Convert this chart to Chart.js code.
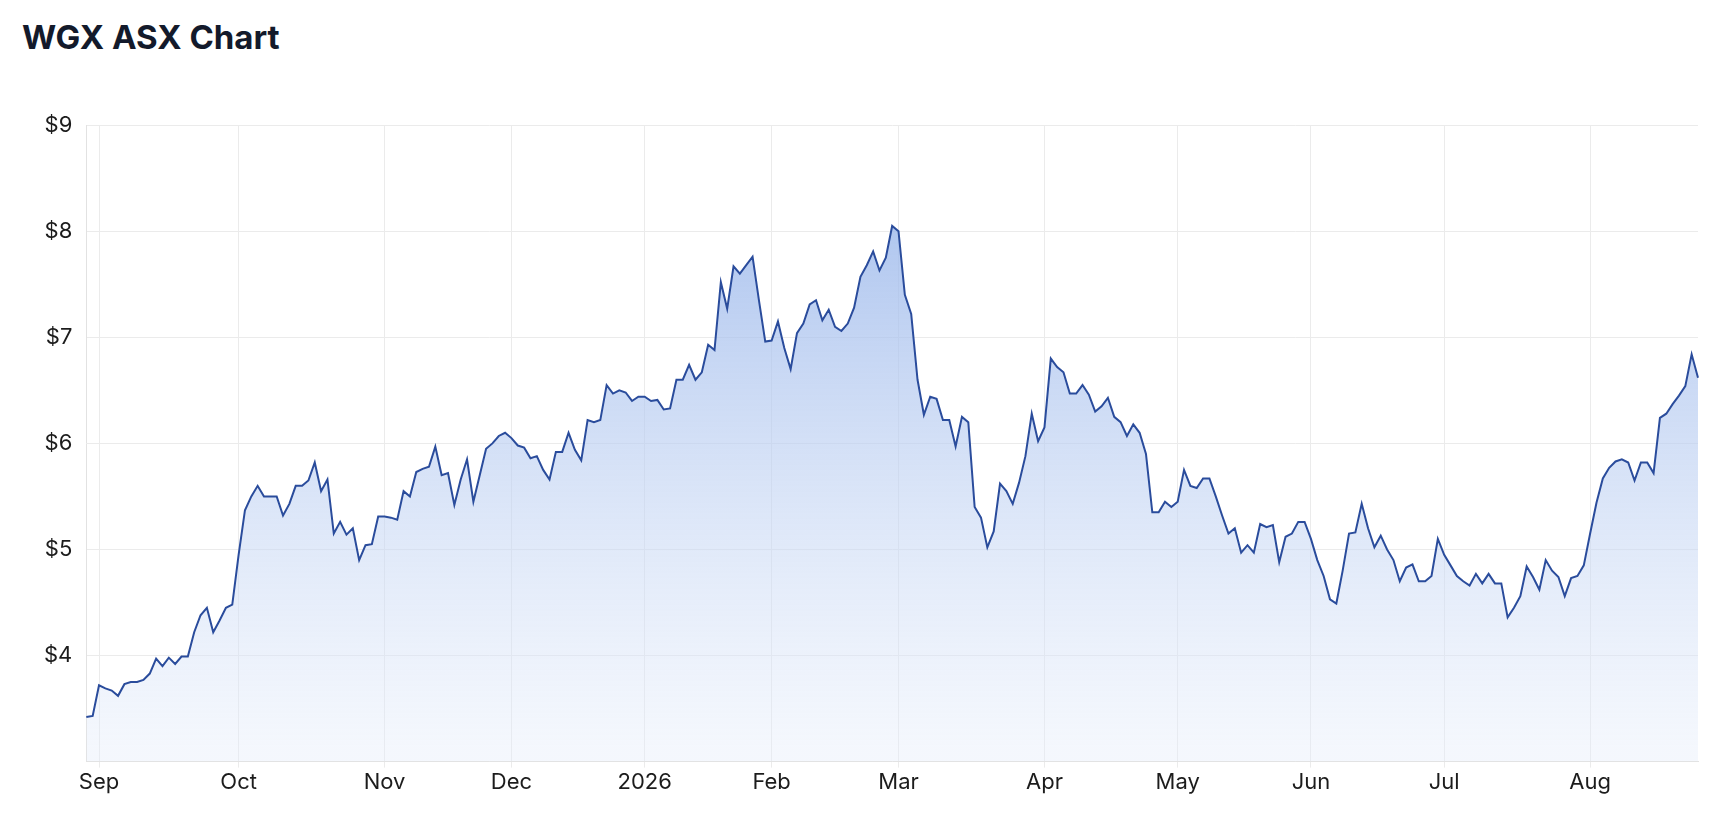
<!DOCTYPE html>
<html>
<head>
<meta charset="utf-8">
<script src="https://cdn.jsdelivr.net/npm/chart.js@4.4.1/dist/chart.umd.min.js"></script>
<style>
  body { margin: 0; background: #fff; font-family: Inter, "Noto Sans", sans-serif; }
  h1 { margin: 0; position: absolute; left: 22px; top: 17px; font-size: 33px; font-weight: 700; color: #131a2b; }
  #wrap { position: absolute; left: 30px; top: 98px; width: 1676px; height: 700px; }
</style>
</head>
<body>
<h1>WGX ASX Chart</h1>
<div id="wrap"><canvas id="c"></canvas></div>
<script>
const aug25 = [3.42, 3.43];
const sep = [3.72, 3.69, 3.67, 3.62, 3.73, 3.75, 3.75, 3.77, 3.83, 3.97, 3.90, 3.98, 3.92, 3.99, 3.99, 4.22, 4.38, 4.45, 4.22, 4.33, 4.45, 4.48];
const oct = [4.95, 5.37, 5.50, 5.60, 5.50, 5.50, 5.50, 5.32, 5.43, 5.60, 5.60, 5.65, 5.82, 5.55, 5.66, 5.15, 5.26, 5.14, 5.20, 4.90, 5.04, 5.05, 5.31];
const nov = [5.31, 5.30, 5.28, 5.55, 5.50, 5.73, 5.76, 5.78, 5.97, 5.70, 5.72, 5.42, 5.66, 5.85, 5.45, 5.70, 5.95, 6.00, 6.07, 6.10];
const dec = [6.05, 5.98, 5.96, 5.86, 5.88, 5.75, 5.66, 5.92, 5.92, 6.10, 5.94, 5.84, 6.22, 6.20, 6.22, 6.55, 6.47, 6.50, 6.48, 6.40, 6.44];
const jan = [6.44, 6.40, 6.41, 6.32, 6.33, 6.60, 6.60, 6.74, 6.60, 6.67, 6.93, 6.88, 7.52, 7.27, 7.67, 7.60, 7.68, 7.76, 7.35, 6.96];
const feb = [6.97, 7.15, 6.90, 6.70, 7.04, 7.13, 7.31, 7.35, 7.16, 7.26, 7.10, 7.06, 7.13, 7.28, 7.57, 7.68, 7.81, 7.63, 7.75, 8.05];
const mar = [8.00, 7.40, 7.22, 6.60, 6.27, 6.44, 6.42, 6.22, 6.22, 5.97, 6.25, 6.20, 5.40, 5.30, 5.02, 5.17, 5.62, 5.55, 5.43, 5.63, 5.88, 6.28, 6.02];
const apr = [6.15, 6.80, 6.72, 6.67, 6.47, 6.47, 6.55, 6.46, 6.30, 6.35, 6.43, 6.25, 6.20, 6.07, 6.18, 6.10, 5.90, 5.35, 5.35, 5.45, 5.40];
const may = [5.45, 5.75, 5.60, 5.58, 5.67, 5.67, 5.50, 5.32, 5.15, 5.20, 4.97, 5.04, 4.97, 5.24, 5.21, 5.23, 4.88, 5.12, 5.15, 5.26, 5.26];
const jun = [5.10, 4.90, 4.75, 4.53, 4.49, 4.80, 5.15, 5.16, 5.43, 5.20, 5.02, 5.13, 5.00, 4.90, 4.70, 4.83, 4.86, 4.70, 4.70, 4.75, 5.10];
const jul = [4.95, 4.85, 4.75, 4.70, 4.66, 4.77, 4.68, 4.77, 4.68, 4.68, 4.36, 4.45, 4.56, 4.84, 4.74, 4.62, 4.90, 4.80, 4.74, 4.56, 4.73, 4.75, 4.85];
const aug26 = [5.15, 5.44, 5.67, 5.77, 5.83, 5.85, 5.82, 5.65, 5.82, 5.82, 5.72, 6.24, 6.28, 6.37, 6.45, 6.54, 6.84, 6.62];

const months = [aug25, sep, oct, nov, dec, jan, feb, mar, apr, may, jun, jul, aug26];
const monthNames = ["", "Sep", "Oct", "Nov", "Dec", "2026", "Feb", "Mar", "Apr", "May", "Jun", "Jul", "Aug"];
const yTicks = [4, 5, 6, 7, 8, 9];

const prices = [];
const tickNames = {};
months.forEach((m, i) => {
  if (monthNames[i]) tickNames[prices.length] = monthNames[i];
  prices.push(...m);
});
const labels = prices.map((_, i) => i);

const ctx = document.getElementById("c").getContext("2d");
const grad = ctx.createLinearGradient(0, 100, 0, 650);
grad.addColorStop(0, "rgba(150,180,234,0.8)");
grad.addColorStop(1, "rgba(228,236,250,0.4)");

new Chart(ctx, {
  type: "line",
  data: {
    labels: labels,
    datasets: [{
      data: prices,
      borderColor: "#2a4c9c",
      borderWidth: 2,
      backgroundColor: grad,
      fill: "start",
      pointRadius: 0,
      tension: 0,
    }],
  },
  options: {
    responsive: true,
    maintainAspectRatio: false,
    animation: false,
    plugins: { legend: { display: false }, tooltip: { enabled: false } },
    layout: { padding: { right: 8, top: 12 } },
    scales: {
      x: {
        type: "category",
        offset: false,
        grid: { color: "#ebebeb", drawTicks: true, tickLength: 6 },
        border: { color: "#e2e2e2" },
        ticks: {
          autoSkip: false,
          maxRotation: 0,
          color: "#1c1c1c",
          font: { family: "Inter", size: 22 },
          padding: 2,
          callback: (v) => (tickNames[v] !== undefined ? tickNames[v] : null),
        },
      },
      y: {
        min: 3,
        max: 9,
        afterBuildTicks: (axis) => { axis.ticks = [3, ...yTicks].map((v) => ({ value: v })); },
        grid: { color: "#ebebeb", drawTicks: false },
        border: { color: "#e2e2e2" },
        ticks: {
          color: "#1c1c1c",
          font: { family: "Inter", size: 22 },
          padding: 14,
          callback: (v) => (v === 3 ? "" : "$" + v),
        },
      },
    },
  },
});
</script>
</body>
</html>
